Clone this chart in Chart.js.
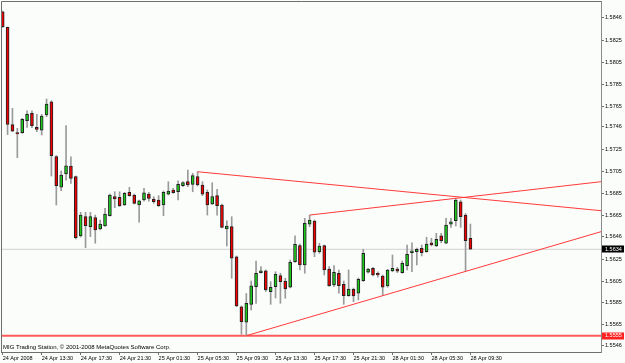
<!DOCTYPE html>
<html>
<head>
<meta charset="utf-8">
<script src="https://cdn.jsdelivr.net/npm/chart.js@4.4.0/dist/chart.umd.min.js"></script>
<style>
  html, body { margin: 0; padding: 0; background: #fbfdfb; }
  #wrap { width: 625px; height: 363px; }
</style>
</head>
<body>
<div id="wrap"><canvas id="priceChart" width="625" height="363"></canvas></div>
<script>
// GBPUSD-style 30 min bars, 24 Apr 2008 09:30 .. 28 Apr 2008 09:30
const opens = [1.58512,1.58369,1.57481,1.57406,1.57406,1.57515,1.57583,1.57455,1.57430,1.57568,
  1.57689,1.57188,1.56907,1.57028,1.57101,1.57004,1.56462,1.56638,1.56547,1.56629,
  1.56526,1.56553,1.56647,1.56821,1.56815,1.56745,1.56861,1.56836,1.56745,1.56791,
  1.56845,1.56800,1.56791,1.56745,1.56843,1.56882,1.56866,1.56921,1.56958,1.56934,
  1.57004,1.56928,1.56861,1.56754,1.56830,1.56745,1.56526,1.56547,1.56270,1.55815,
  1.55673,1.55837,1.55998,1.56126,1.56142,1.55952,1.55998,1.56099,1.56050,1.55993,
  1.56227,1.56373,1.56197,1.56569,1.56599,1.56318,1.56373,1.56160,1.56014,1.56121,
  1.56020,1.55916,1.55974,1.55938,1.56053,1.56130,1.56166,1.56121,1.56096,1.56005,
  1.56142,1.56160,1.56126,1.56190,1.56309,1.56318,1.56349,1.56318,1.56400,1.56370,
  1.56464,1.56395,1.56569,1.56601,1.56775,1.56653,1.56441];
const highs = [1.58518,1.58372,1.57629,1.57446,1.57537,1.57607,1.57607,1.57574,1.57574,1.57714,
  1.57698,1.57197,1.57056,1.57470,1.57186,1.57010,1.56678,1.56678,1.56678,1.56653,
  1.56608,1.56715,1.56845,1.56866,1.56866,1.56861,1.56907,1.56845,1.56791,1.56898,
  1.56861,1.56821,1.56830,1.56873,1.56958,1.56898,1.56967,1.56958,1.57065,1.57035,
  1.57049,1.56958,1.56882,1.56949,1.56888,1.56754,1.56601,1.56638,1.56279,1.55822,
  1.55936,1.56050,1.56233,1.56181,1.56151,1.56044,1.56135,1.56121,1.56075,1.56242,
  1.56464,1.56388,1.56623,1.56653,1.56608,1.56395,1.56379,1.56181,1.56190,1.56151,
  1.56050,1.56151,1.55986,1.56078,1.56340,1.56166,1.56175,1.56135,1.56105,1.56157,
  1.56288,1.56175,1.56233,1.56379,1.56400,1.56352,1.56379,1.56450,1.56441,1.56486,
  1.56486,1.56623,1.56623,1.56806,1.56791,1.56667,1.56571];
const lows = [1.58367,1.57389,1.57417,1.57177,1.57400,1.57455,1.57453,1.57415,1.57385,1.57552,
  1.57010,1.56745,1.56876,1.56973,1.56943,1.56434,1.56452,1.56355,1.56455,1.56395,
  1.56516,1.56548,1.56642,1.56720,1.56731,1.56740,1.56824,1.56754,1.56587,1.56781,
  1.56781,1.56760,1.56729,1.56647,1.56836,1.56852,1.56791,1.56912,1.56912,1.56866,
  1.56919,1.56830,1.56653,1.56749,1.56653,1.56535,1.56370,1.56075,1.55815,1.55563,
  1.55550,1.55785,1.55846,1.56121,1.55954,1.55837,1.55895,1.55846,1.55892,1.55986,
  1.56221,1.56151,1.56121,1.56547,1.56272,1.56303,1.56105,1.56000,1.55998,1.55938,
  1.55837,1.55910,1.55861,1.55877,1.56046,1.56121,1.56096,1.56084,1.55922,1.55993,
  1.56135,1.56126,1.56121,1.56151,1.56135,1.56197,1.56279,1.56313,1.56370,1.56364,
  1.56400,1.56391,1.56541,1.56553,1.56541,1.56144,1.56338];
const closes = [1.58375,1.57481,1.57421,1.57394,1.57528,1.57574,1.57470,1.57437,1.57558,1.57668,
  1.57196,1.56921,1.57019,1.57104,1.56989,1.56446,1.56653,1.56556,1.56638,1.56516,
  1.56571,1.56663,1.56836,1.56800,1.56739,1.56852,1.56830,1.56760,1.56784,1.56857,
  1.56806,1.56775,1.56739,1.56861,1.56873,1.56857,1.56934,1.56949,1.56928,1.57013,
  1.56928,1.56845,1.56745,1.56821,1.56739,1.56541,1.56553,1.56258,1.55822,1.55678,
  1.55846,1.56007,1.56121,1.56144,1.55968,1.55993,1.56111,1.56044,1.55977,1.56221,
  1.56386,1.56197,1.56578,1.56608,1.56313,1.56370,1.56151,1.56007,1.56130,1.56007,
  1.55916,1.55977,1.55913,1.56066,1.56303,1.56160,1.56105,1.56105,1.55993,1.56151,
  1.56166,1.56139,1.56212,1.56294,1.56327,1.56340,1.56309,1.56388,1.56379,1.56431,
  1.56419,1.56562,1.56592,1.56791,1.56638,1.56419,1.56340];

const timeLabels = ['24 Apr 2008','24 Apr 13:30','24 Apr 17:30','24 Apr 21:30','25 Apr 01:30','25 Apr 05:30',
  '25 Apr 09:30','25 Apr 13:30','25 Apr 17:30','25 Apr 21:30','28 Apr 01:30','28 Apr 05:30','28 Apr 09:30'];
const timeTickIndex = [0,8,16,24,32,40,48,56,64,72,80,88,96];
const priceTicks = [1.5546,1.5565,1.5585,1.5605,1.5625,1.5646,1.5665,1.5685,1.5705,1.5725,
  1.5746,1.5765,1.5785,1.5805,1.5825,1.5846];

const bidPrice = 1.5634;
const supportPrice = 1.5555;
// trend lines: [bar index, price] pairs, the far end read at the right edge of the chart
const trendDown = [[40, 1.57049], [122.8, 1.56693]];
const trendUpper = [[63, 1.56653], [122.8, 1.56958]];
const trendLower = [[50, 1.55550], [122.8, 1.56501]];

const X_MIN = -0.35, X_MAX = 122.8;
const Y_MIN = 1.55401, Y_MAX = 1.58610;
const FONT = 'Liberation Sans';

const idx = opens.map((_, i) => i);
const upColor = '#1ec81e';
const downColor = '#f00000';
const bodyColors = idx.map(i => closes[i] >= opens[i] ? upColor : downColor);
const toLine = pts => pts.map(p => ({ x: p[0], y: p[1] }));

const chartDecor = {
  id: 'chartDecor',
  beforeDraw(chart) {
    const ctx = chart.ctx;
    ctx.save();
    ctx.fillStyle = '#fbfdfb';
    ctx.fillRect(0, 0, chart.width, chart.height);
    ctx.restore();
  },
  afterDraw(chart) {
    const { ctx, chartArea: a, scales } = chart;
    ctx.save();
    ctx.strokeStyle = '#6e6e6e';
    ctx.lineWidth = 1;
    ctx.beginPath();
    ctx.moveTo(a.left + 0.5, a.bottom);
    ctx.lineTo(a.left + 0.5, a.top + 0.5);
    ctx.lineTo(a.right, a.top + 0.5);
    ctx.stroke();

    // footer text
    ctx.fillStyle = '#000';
    ctx.font = '6px "' + FONT + '"';
    ctx.textBaseline = 'middle';
    ctx.textAlign = 'left';
    ctx.fillText('MIG Trading Station, \u00a9 2001-2008 MetaQuotes Software Corp.', a.left + 2, a.bottom - 5);

    // price boxes on the right axis
    const boxes = [[bidPrice, '#000000'], [supportPrice, '#ff2020']];
    ctx.font = '5.5px "' + FONT + '"';
    boxes.forEach(([v, c]) => {
      const y = scales.y.getPixelForValue(v);
      ctx.fillStyle = c;
      ctx.fillRect(a.right + 1, Math.round(y) - 3.5, 22, 7);
      ctx.fillStyle = '#fff';
      ctx.fillText(v.toFixed(4), a.right + 4, y);
    });
    ctx.restore();
  }
};

new Chart(document.getElementById('priceChart'), {
  type: 'bar',
  data: {
    datasets: [
      {
        type: 'line', label: 'trend down', data: toLine(trendDown),
        borderColor: '#ff3a3a', borderWidth: 1, pointRadius: 0, order: 0
      },
      {
        type: 'line', label: 'trend upper', data: toLine(trendUpper),
        borderColor: '#ff3a3a', borderWidth: 1, pointRadius: 0, order: 0
      },
      {
        type: 'line', label: 'trend lower', data: toLine(trendLower),
        borderColor: '#ff3a3a', borderWidth: 1, pointRadius: 0, order: 0
      },
      {
        label: 'body',
        data: idx.map(i => ({ x: i, y: [opens[i], closes[i]] })),
        backgroundColor: bodyColors,
        borderColor: '#202020',
        borderWidth: 1,
        borderSkipped: false,
        barThickness: 3,
        minBarLength: 1,
        grouped: false,
        order: 1
      },
      {
        label: 'wick',
        data: idx.map(i => ({ x: i, y: [lows[i], highs[i]] })),
        backgroundColor: '#9a9a9a',
        barThickness: 1,
        grouped: false,
        order: 2
      },
      {
        type: 'line', label: 'support', data: [{ x: X_MIN, y: supportPrice }, { x: X_MAX, y: supportPrice }],
        borderColor: '#ff5a5a', borderWidth: 2, pointRadius: 0, order: 3
      },
      {
        type: 'line', label: 'bid', data: [{ x: X_MIN, y: bidPrice }, { x: X_MAX, y: bidPrice }],
        borderColor: '#d0d0d0', borderWidth: 1, pointRadius: 0, order: 4
      }
    ]
  },
  options: {
    responsive: false,
    animation: false,
    devicePixelRatio: 1,
    layout: { padding: { left: 1, top: 1, right: 0, bottom: 0 } },
    plugins: { legend: { display: false }, tooltip: { enabled: false } },
    scales: {
      x: {
        type: 'linear',
        offset: false,
        min: X_MIN,
        max: X_MAX,
        afterBuildTicks: s => { s.ticks = timeTickIndex.map(v => ({ value: v })); },
        afterFit: s => { s.height = 11; s.paddingLeft = 0; s.paddingRight = 0; },
        ticks: {
          autoSkip: false, maxRotation: 0, align: 'start', padding: 0,
          color: '#000', font: { family: FONT, size: 5.5 },
          callback: v => timeLabels[timeTickIndex.indexOf(v)]
        },
        grid: { offset: false, drawOnChartArea: false, drawTicks: true, tickLength: 3, color: '#6e6e6e' },
        border: { display: true, color: '#6e6e6e' }
      },
      y: {
        position: 'right',
        min: Y_MIN,
        max: Y_MAX,
        afterBuildTicks: s => { s.ticks = priceTicks.map(v => ({ value: v })); },
        afterFit: s => { s.width = 24; s.paddingTop = 0; s.paddingBottom = 0; },
        ticks: {
          autoSkip: false, padding: 1,
          color: '#000', font: { family: FONT, size: 5.5 },
          callback: v => v.toFixed(4)
        },
        grid: { drawOnChartArea: false, drawTicks: true, tickLength: 3, color: '#6e6e6e' },
        border: { display: true, color: '#8a8a8a', width: 1 }
      }
    }
  },
  plugins: [chartDecor]
});
</script>
</body>
</html>
